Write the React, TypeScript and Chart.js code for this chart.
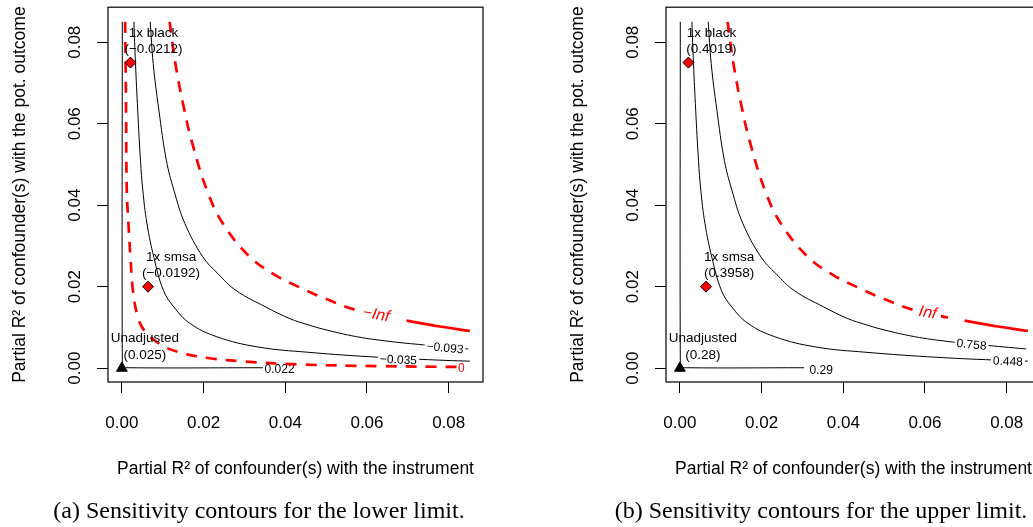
import React, { useEffect, useRef } from "react";
import { Chart, registerables } from "chart.js";

Chart.register(...registerables);

// ---------------- data ----------------
const xTicks = [0, 0.02, 0.04, 0.06, 0.08];
const yTicks = [0, 0.02, 0.04, 0.06, 0.08];

// contour curves (identical shapes in both panels)
const innerX = [0.00294, 0.00333, 0.00387, 0.00455, 0.00512, 0.00612, 0.00783, 0.01016, 0.01273, 0.01665, 0.02326, 0.03329, 0.04553, 0.06316, 0.07907, 0.08519];
const innerY = [0.085, 0.0748, 0.0633, 0.051, 0.0437, 0.0356, 0.0272, 0.0191, 0.015, 0.011, 0.0077, 0.0052, 0.0039, 0.00265, 0.00191, 0.00172];

const outerX = [0.00693, 0.00766, 0.00906, 0.01089, 0.01273, 0.01542, 0.01983, 0.0235, 0.0279, 0.03525, 0.04113, 0.04553, 0.04928, 0.05745, 0.06561, 0.07376, 0.08477];
const outerY = [0.085, 0.0748, 0.0633, 0.051, 0.0437, 0.0355, 0.0273, 0.0232, 0.0191, 0.015, 0.01215, 0.01067, 0.00957, 0.00773, 0.00655, 0.00572, 0.00471];

const infX = [0.01168, 0.0131, 0.0153, 0.01726, 0.02081, 0.02472, 0.03133, 0.03745, 0.04357, 0.04969, 0.05753, 0.06561];
const infY = [0.085, 0.0748, 0.0633, 0.0551, 0.0437, 0.0355, 0.0273, 0.0229, 0.0198, 0.0171, 0.0142, 0.0124];
const infTailX = [0.06969, 0.07785, 0.08519];
const infTailY = [0.01166, 0.01023, 0.00913];

const zeroX = [0.0008, 0.001, 0.0012, 0.0016, 0.0021, 0.0027, 0.0039, 0.0056, 0.0095, 0.0137, 0.0211, 0.0291, 0.0436, 0.0632, 0.0819];
const zeroY = [0.085, 0.0658, 0.0437, 0.0356, 0.0272, 0.0191, 0.0126, 0.0091, 0.0058, 0.004, 0.0025, 0.0017, 0.0009, 0.0005, 0.0003];

const floorY = [0.085, 0.0015, 0.0004, 0.0001, 0.0001];
const lowerFloorX = [0.0001, 0.0001, 0.0004, 0.0015, 0.0345];
const upperFloorX = [0.0001, 0.0001, 0.0004, 0.0015, 0.0304];

// benchmark points
const benchX = [0.0021, 0.0064];
const benchY = [0.075, 0.02];
const benchNames = ["1x black", "1x smsa"];
const lowerBenchValues = ["(\u22120.0212)", "(\u22120.0192)"];
const upperBenchValues = ["(0.4019)", "(0.3958)"];
const unadjX = [0];
const unadjY = [0];
const unadjName = "Unadjusted";
const lowerUnadjValue = "(0.025)";
const upperUnadjValue = "(0.28)";

// contour level labels
const lowerLevels = { outer: "\u22120.093", inner: "\u22120.035", floor: "0.022", inf: "\u2212Inf", zero: "0" };
const upperLevels = { outer: "0.758", inner: "0.448", floor: "0.29", inf: "Inf" };

const xTitle = "Partial R\u00B2 of confounder(s) with the instrument";
const yTitle = "Partial R\u00B2 of confounder(s) with the pot. outcome";
const lowerCaption = "(a) Sensitivity contours for the lower limit.";
const upperCaption = "(b) Sensitivity contours for the upper limit.";

// ---------------- styling / placement ----------------
const SANS = '"Liberation Sans", Arial, Helvetica, sans-serif';
const SERIF = '"Liberation Serif", "Times New Roman", serif';
const RED = "#ff0000";

const lowerPlace: any = {
  outer: { x: 0.0791, y: 0.0051, rot: 5.5 },
  inner: { x: 0.0677, y: 0.0022, rot: 2.5 },
  floor: { x: 0.0386, y: -0.00025, rot: 0 },
  inf: { x: 0.0623, y: 0.0134, rot: 10 },
  zero: { x: 0.0831, y: 0.0002, rot: 0 },
};
const upperPlace: any = {
  outer: { x: 0.0714, y: 0.0059, rot: 6 },
  inner: { x: 0.0803, y: 0.0018, rot: 2 },
  floor: { x: 0.0346, y: -0.0003, rot: 0 },
  inf: { x: 0.0607, y: 0.0139, rot: 10 },
};

const PANEL_W = 558;
const PANEL_H = 527;

const pts = (xs: number[], ys: number[]) => xs.map((x, i) => ({ x, y: ys[i] }));

function blackCurve(xs: number[], ys: number[], label: any) {
  return {
    type: "line",
    data: pts(xs, ys),
    borderColor: "#000",
    borderWidth: 1,
    pointRadius: 0,
    tension: 0.4,
    fill: false,
    order: 3,
    rLabel: label,
  };
}
function redCurve(xs: number[], ys: number[], dashed: boolean, label: any) {
  return {
    type: "line",
    data: pts(xs, ys),
    borderColor: RED,
    borderWidth: 2.7,
    borderDash: dashed ? [11, 9] : [],
    borderCapStyle: "butt",
    pointRadius: 0,
    tension: 0.4,
    fill: false,
    order: 2,
    rLabel: label,
  };
}

function lvl(text: string, place: any, opts: any) {
  return { text, x: place.x, y: place.y, rot: place.rot, ...opts };
}

function buildPanel(lower: boolean) {
  const levels: any = lower ? lowerLevels : upperLevels;
  const place = lower ? lowerPlace : upperPlace;
  const blk = { color: "#000", size: 12, italic: false };
  const datasets: any[] = [
    blackCurve(lower ? lowerFloorX : upperFloorX, floorY, lvl(levels.floor, place.floor, { ...blk, backdrop: false })),
    blackCurve(innerX, innerY, lvl(levels.inner, place.inner, { ...blk, backdrop: true })),
    blackCurve(outerX, outerY, lvl(levels.outer, place.outer, { ...blk, backdrop: true })),
    redCurve(infX, infY, true, lvl(levels.inf, place.inf, { color: RED, size: 16, italic: true, backdrop: true })),
    redCurve(infTailX, infTailY, false, null),
  ];
  if (lower) {
    datasets.push(redCurve(zeroX, zeroY, true, lvl(levels.zero, place.zero, { color: RED, size: 12, italic: false, backdrop: false })));
  }
  datasets.push({
    type: "scatter",
    data: pts(benchX, benchY),
    pointStyle: "rectRot",
    pointRadius: 5.5,
    backgroundColor: RED,
    borderColor: "#000",
    borderWidth: 1,
    order: 1,
    rNames: benchNames,
    rValues: lower ? lowerBenchValues : upperBenchValues,
  });
  datasets.push({
    type: "scatter",
    data: pts(unadjX, unadjY),
    pointStyle: "triangle",
    pointRadius: 6.2,
    backgroundColor: "#000",
    borderColor: "#000",
    borderWidth: 1,
    order: 1,
    rNames: [unadjName],
    rValues: [lower ? lowerUnadjValue : upperUnadjValue],
  });
  return {
    datasets,
    caption: lower ? lowerCaption : upperCaption,
    captionX: lower ? 259 : 263,
  };
}

function makePlugin(panel: any) {
  return {
    id: "rPanel",
    afterDatasetDraw(chart: any, args: any) {
      const ds: any = chart.data.datasets[args.index];
      const L = ds.rLabel;
      if (!L) return;
      const ctx = chart.ctx;
      const px = chart.scales.x.getPixelForValue(L.x);
      const py = chart.scales.y.getPixelForValue(L.y);
      ctx.save();
      ctx.translate(px, py);
      ctx.rotate((L.rot * Math.PI) / 180);
      ctx.font = `${L.italic ? "italic " : ""}${L.size}px ${SANS}`;
      const w = ctx.measureText(L.text).width;
      if (L.backdrop) {
        ctx.fillStyle = "#fff";
        ctx.fillRect(-w / 2 - 2, -L.size * 0.5, w + 4, L.size);
      }
      ctx.fillStyle = L.color;
      ctx.textAlign = "center";
      ctx.textBaseline = "alphabetic";
      ctx.fillText(L.text, 0, L.size * 0.36);
      ctx.restore();
    },
    afterDatasetsDraw(chart: any) {
      const ctx = chart.ctx;
      ctx.save();
      ctx.fillStyle = "#000";
      ctx.font = `13.5px ${SANS}`;
      ctx.textAlign = "center";
      ctx.textBaseline = "alphabetic";
      chart.data.datasets.forEach((ds: any) => {
        if (!ds.rNames) return;
        ds.data.forEach((p: any, i: number) => {
          const px = chart.scales.x.getPixelForValue(p.x);
          const py = chart.scales.y.getPixelForValue(p.y);
          ctx.fillText(ds.rNames[i], px + 23, py - 26);
          ctx.fillText(ds.rValues[i], px + 23, py - 9.6);
        });
      });
      ctx.restore();
    },
    afterDraw(chart: any) {
      const ctx = chart.ctx;
      const a = chart.chartArea;
      const xs = chart.scales.x;
      const ys = chart.scales.y;
      ctx.save();
      ctx.strokeStyle = "#000";
      ctx.lineWidth = 1.2;
      ctx.strokeRect(a.left, a.top, a.right - a.left, a.bottom - a.top);
      ctx.fillStyle = "#000";
      ctx.textAlign = "center";
      ctx.textBaseline = "alphabetic";
      ctx.font = `17px ${SANS}`;
      xs.ticks.forEach((t: any) => {
        ctx.fillText(t.value.toFixed(2), xs.getPixelForValue(t.value), a.bottom + 45.8);
      });
      ys.ticks.forEach((t: any) => {
        ctx.save();
        ctx.translate(a.left - 28.5, ys.getPixelForValue(t.value));
        ctx.rotate(-Math.PI / 2);
        ctx.fillText(t.value.toFixed(2), 0, 0);
        ctx.restore();
      });
      ctx.font = `17.5px ${SANS}`;
      ctx.fillText(xTitle, (a.left + a.right) / 2, a.bottom + 92.3);
      ctx.save();
      ctx.translate(a.left - 83, (a.top + a.bottom) / 2);
      ctx.rotate(-Math.PI / 2);
      ctx.fillText(yTitle, 0, 0);
      ctx.restore();
      ctx.font = `24px ${SERIF}`;
      ctx.fillText(panel.caption, panel.captionX, 518);
      ctx.restore();
    },
  };
}

function makeChart(canvas: HTMLCanvasElement, lower: boolean) {
  const panel = buildPanel(lower);
  const axisCommon = (ticks: number[], min: number, max: number, fitKey: "width" | "height", fitVal: number) => ({
    type: "linear",
    min,
    max,
    grid: { drawOnChartArea: false, drawTicks: true, tickLength: 11, color: "#000", lineWidth: 1 },
    border: { display: false },
    ticks: { display: false },
    afterBuildTicks: (s: any) => {
      s.ticks = ticks.map((v) => ({ value: v }));
    },
    afterFit: (s: any) => {
      s[fitKey] = fitVal;
    },
  });
  return new Chart(canvas, {
    type: "scatter",
    data: { datasets: panel.datasets },
    options: {
      responsive: false,
      maintainAspectRatio: false,
      animation: false,
      devicePixelRatio: 1,
      events: [],
      layout: { padding: { top: 7, left: 0, right: 75, bottom: 0 } },
      plugins: { legend: { display: false }, tooltip: { enabled: false } },
      scales: {
        x: { ...axisCommon(xTicks, -0.0034, 0.0884, "height", PANEL_H - 382), position: "bottom" },
        y: { ...axisCommon(yTicks, -0.0034, 0.0886, "width", 108), position: "left" },
      },
    } as any,
    plugins: [makePlugin(panel)],
  } as any);
}

export default function App() {
  const leftRef = useRef<HTMLCanvasElement>(null);
  const rightRef = useRef<HTMLCanvasElement>(null);
  useEffect(() => {
    const charts = [makeChart(leftRef.current!, true), makeChart(rightRef.current!, false)];
    return () => charts.forEach((c) => c.destroy());
  }, []);
  const cstyle = (left: number): React.CSSProperties => ({
    position: "absolute",
    left,
    top: 0,
    width: PANEL_W,
    height: PANEL_H,
    display: "block",
  });
  return (
    <div
      style={{
        position: "fixed",
        left: 0,
        top: 0,
        width: 1033,
        height: 527,
        overflow: "hidden",
        background: "#fff",
      }}
    >
      <canvas ref={leftRef} width={PANEL_W} height={PANEL_H} style={cstyle(0)} />
      <canvas ref={rightRef} width={PANEL_W} height={PANEL_H} style={cstyle(558)} />
    </div>
  );
}
